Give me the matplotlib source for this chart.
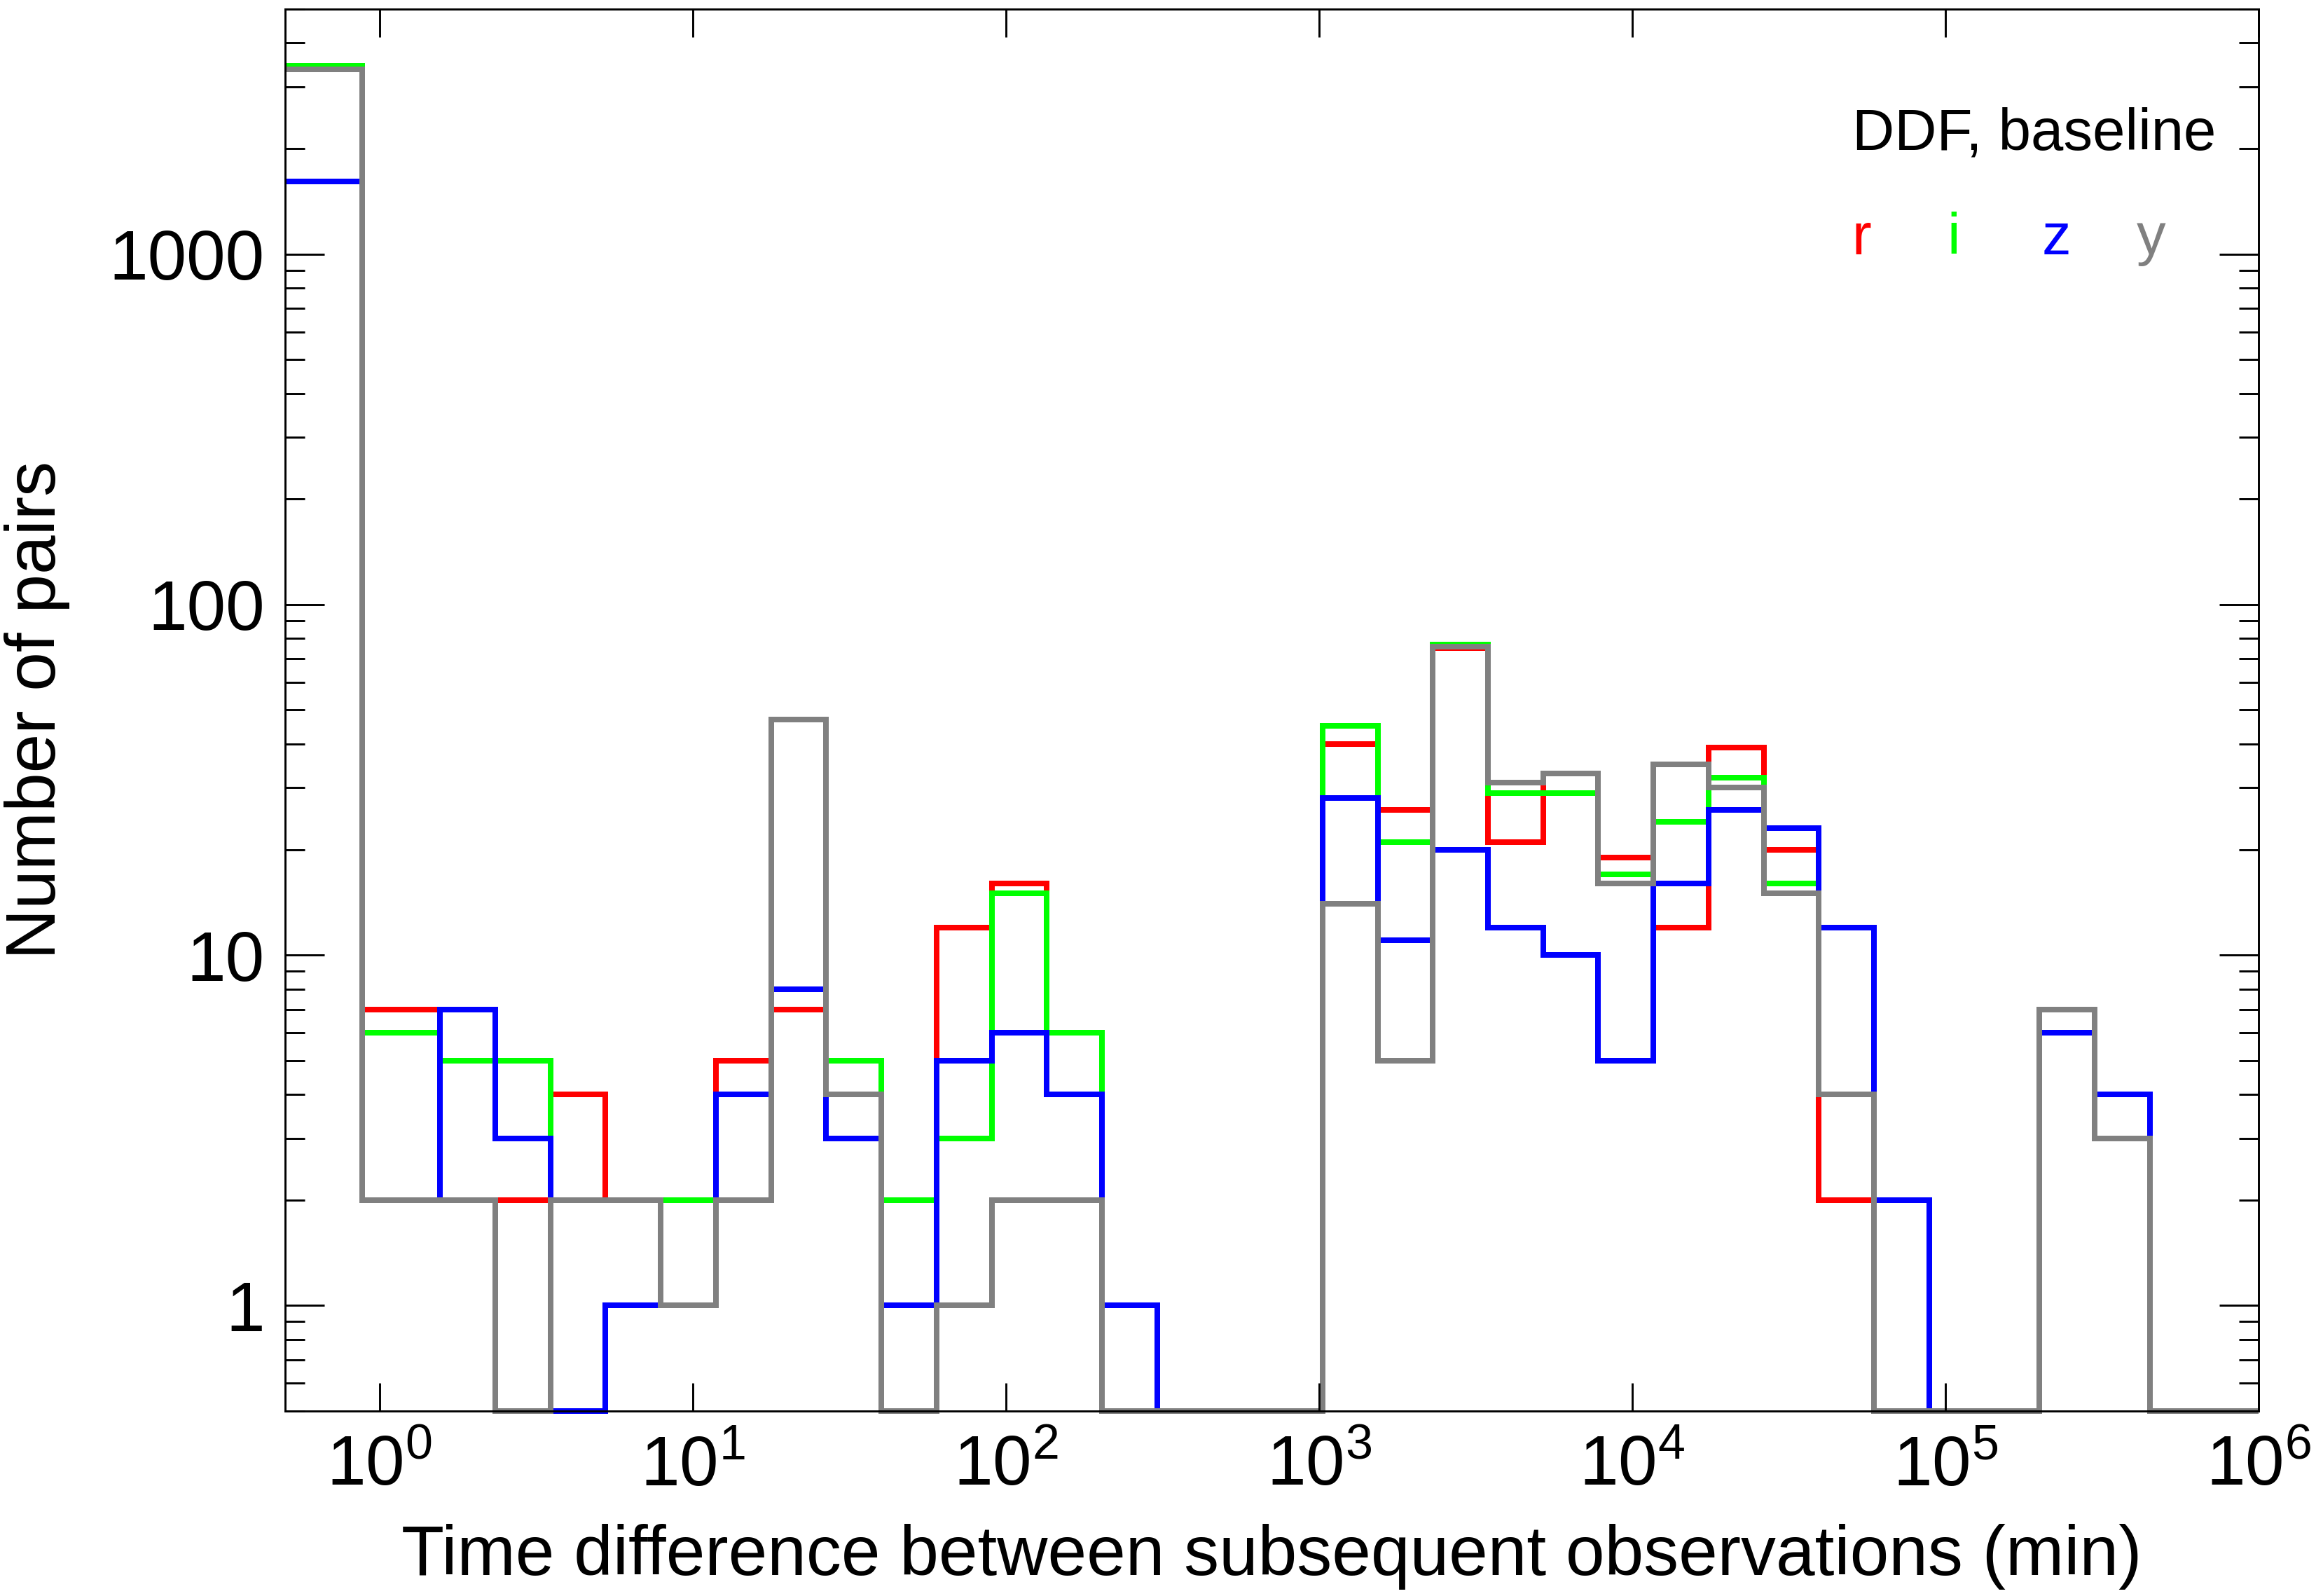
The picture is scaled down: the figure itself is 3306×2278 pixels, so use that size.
import numpy as np
import matplotlib
matplotlib.use("Agg")
import matplotlib.pyplot as plt
from matplotlib.ticker import LogLocator, NullLocator, NullFormatter

plt.rcParams['font.family'] = 'Liberation Sans'
plt.rcParams['mathtext.fontset'] = 'custom'
plt.rcParams['mathtext.rm'] = 'Liberation Sans'
plt.rcParams['mathtext.it'] = 'Liberation Sans:italic'
plt.rcParams['mathtext.bf'] = 'Liberation Sans:bold'

# =========================================================
# histogram data
# =========================================================
# bin edges in minutes (factor 1.5 bins, first bin is the short-gap bin)
bin_edges = [0.5, 0.88, 1.5625, 2.344, 3.516, 5.273, 7.910, 11.87, 17.80,
             26.70, 40.05, 60.08, 90.12, 135.2, 202.8, 304.1, 456.2, 684.3,
             1026, 1540, 2309, 3464, 5196, 7794, 11691, 17537, 26305, 39458,
             59187, 88780, 133170, 199755, 299633, 449449, 1e6]

counts_r = [3370, 7, 2, 2, 4, 2, 2, 5, 7, 4, 2, 12, 16, 6, 0, 0, 0,
            0, 40, 26, 75, 21, 33, 19, 12, 39, 20, 2, 0, 0, 0, 7, 3, 0]
counts_i = [3440, 6, 5, 5, 2, 2, 2, 2, 8, 5, 2, 3, 15, 6, 0, 0, 0,
            0, 45, 21, 77, 29, 29, 17, 24, 32, 16, 4, 0, 0, 0, 7, 3, 0]
counts_z = [1610, 2, 7, 3, 0, 1, 1, 4, 8, 3, 1, 5, 6, 4, 1, 0, 0,
            0, 28, 11, 20, 12, 10, 5, 16, 26, 23, 12, 2, 0, 0, 6, 4, 0]
counts_y = [3370, 2, 2, 0, 2, 2, 1, 2, 47, 4, 0, 1, 2, 2, 0, 0, 0,
            0, 14, 5, 76, 31, 33, 16, 35, 30, 15, 4, 0, 0, 0, 7, 3, 0]

filters = ["r", "i", "z", "y"]
colors = ["#ff0000", "#00ff00", "#0000ff", "#808080"]
all_counts = [counts_r, counts_i, counts_z, counts_y]

xlim = (0.5, 1e6)
ylim = (0.5, 5000)

# =========================================================

fig = plt.figure(figsize=(3306 / 300, 2278 / 300), dpi=300)
ax = fig.add_axes([0.1231, 0.1159, 0.8521, 0.8784])

for counts, col in zip(all_counts, colors):
    # empty bins sit on the lower axis, as in the original plot
    vals = np.clip(np.array(counts, dtype=float), ylim[0], None)
    ax.stairs(vals, bin_edges, baseline=None, color=col, lw=1.5,
              clip_on=False, joinstyle='miter', antialiased=False)

ax.set_xscale('log')
ax.set_yscale('log')
ax.set_xlim(*xlim)
ax.set_ylim(*ylim)

ax.set_xticks([1, 10, 100, 1e3, 1e4, 1e5, 1e6])
ax.xaxis.set_minor_locator(NullLocator())
ax.set_yticks([1, 10, 100, 1000], labels=["1", "10", "100", "1000"])
ax.yaxis.set_minor_locator(LogLocator(base=10, subs=range(2, 10)))
ax.yaxis.set_minor_formatter(NullFormatter())

ax.tick_params(which='both', direction='in', top=True, right=True, width=0.7)
ax.tick_params(axis='x', which='major', length=9.6, pad=8, labelsize=24)
ax.tick_params(axis='y', which='major', length=13.4, pad=7, labelsize=24)
ax.tick_params(axis='y', which='minor', length=6.7)
for sp in ax.spines.values():
    sp.set_linewidth(0.7)

ax.set_xlabel("Time difference between subsequent observations (min)", fontsize=24)
ax.xaxis.set_label_coords(0.5, -0.0805)
ax.set_ylabel("Number of pairs", fontsize=24)
ax.yaxis.set_label_coords(-0.109, 0.5)

ax.text(0.794, 0.900, "DDF, baseline", transform=ax.transAxes,
        fontsize=20, ha='left', va='baseline')
for k, (name, col) in enumerate(zip(filters, colors)):
    ax.text(0.794 + 0.0481 * k, 0.8252, name, color=col, transform=ax.transAxes,
            fontsize=20, ha='left', va='baseline')

fig.savefig("out.png", dpi=300)
